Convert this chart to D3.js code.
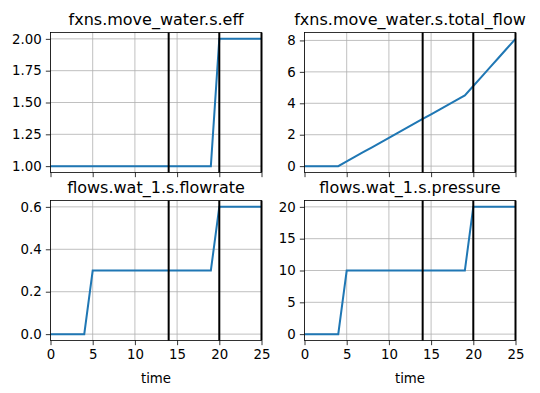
<!DOCTYPE html>
<html><head><meta charset="utf-8">
<script src="https://cdn.jsdelivr.net/npm/d3@7"></script>
<style>body{margin:0;background:#fff}svg{display:block;font-family:"DejaVu Sans",sans-serif}</style>
</head><body><svg id="c" width="540" height="393"></svg>
<script>
const time = [0,1,2,3,4,5,6,7,8,9,10,11,12,13,14,15,16,17,18,19,20,21,22,23,24,25];
const effValues = [1,1,1,1,1,1,1,1,1,1,1,1,1,1,1,1,1,1,1,1,2,2,2,2,2,2];
const totalFlowValues = [0,0,0,0,0,0.3,0.6,0.9,1.2,1.5,1.8,2.1,2.4,2.7,3.0,3.3,3.6,3.9,4.2,4.5,5.1,5.7,6.3,6.9,7.5,8.1];
const flowrateValues = [0,0,0,0,0,0.3,0.3,0.3,0.3,0.3,0.3,0.3,0.3,0.3,0.3,0.3,0.3,0.3,0.3,0.3,0.6,0.6,0.6,0.6,0.6,0.6];
const pressureValues = [0,0,0,0,0,10,10,10,10,10,10,10,10,10,10,10,10,10,10,10,20,20,20,20,20,20];
const titles = ["fxns.move_water.s.eff","fxns.move_water.s.total_flow","flows.wat_1.s.flowrate","flows.wat_1.s.pressure"];
const xTicks = [0,5,10,15,20,25];
const yTicks = [[1.00,1.25,1.50,1.75,2.00],[0,2,4,6,8],[0.0,0.2,0.4,0.6],[0,5,10,15,20]];
const yFormats = [".2f","d",".1f","d"];
const markerTimes = [14,20,25];
const xLabel = "time";

const series = [effValues,totalFlowValues,flowrateValues,pressureValues];
const svg = d3.select("#c");
const boxes = [
  {x0:50.5,x1:261.5,y0:32.5,y1:172.5},
  {x0:304.5,x1:515.5,y0:32.5,y1:172.5},
  {x0:50.5,x1:261.5,y0:200.5,y1:340.5},
  {x0:304.5,x1:515.5,y0:200.5,y1:340.5}
];
series.forEach((vals,i)=>{
  const b = boxes[i];
  const mn = d3.min(vals), mx = d3.max(vals), m = (mx-mn)*0.05;
  const x = d3.scaleLinear().domain([0,25]).range([b.x0,b.x1]);
  const y = d3.scaleLinear().domain([mn-m,mx+m]).range([b.y1,b.y0]);
  const g = svg.append("g");
  // grid
  g.selectAll(".gx").data(xTicks).join("line")
    .attr("x1",d=>x(d)).attr("x2",d=>x(d)).attr("y1",b.y0).attr("y2",b.y1)
    .attr("stroke","#b0b0b0").attr("stroke-width",0.8);
  g.selectAll(".gy").data(yTicks[i]).join("line")
    .attr("y1",d=>y(d)).attr("y2",d=>y(d)).attr("x1",b.x0).attr("x2",b.x1)
    .attr("stroke","#b0b0b0").attr("stroke-width",0.8);
  // data line
  g.append("path").datum(vals.map((v,k)=>[time[k],v]))
    .attr("d",d3.line().x(d=>x(d[0])).y(d=>y(d[1])))
    .attr("fill","none").attr("stroke","#1f77b4").attr("stroke-width",2);
  // marker lines
  g.selectAll(".vl").data(markerTimes).join("line")
    .attr("x1",d=>x(d)).attr("x2",d=>x(d)).attr("y1",b.y0).attr("y2",b.y1)
    .attr("stroke","#000").attr("stroke-width",2);
  // axes
  const xa = d3.axisBottom(x).tickValues(xTicks).tickSizeOuter(0).tickSize(4.67).tickPadding(4.2);
  if (i<2) xa.tickFormat("");
  const gx = g.append("g").attr("transform",`translate(0,${b.y1})`).call(xa);
  const ya = d3.axisLeft(y).tickValues(yTicks[i]).tickSizeOuter(0).tickSize(4.67).tickPadding(4.2).tickFormat(d3.format(yFormats[i]));
  const gy = g.append("g").attr("transform",`translate(${b.x0},0)`).call(ya);
  [gx,gy].forEach(a=>{
    a.select(".domain").remove();
    a.selectAll("line").attr("stroke","#000").attr("stroke-width",0.8);
    a.selectAll("text").attr("font-size",13.33).attr("fill","#000").attr("font-family","DejaVu Sans");
  });
  // frame
  g.append("rect").attr("x",b.x0).attr("y",b.y0).attr("width",b.x1-b.x0).attr("height",b.y1-b.y0)
    .attr("fill","none").attr("stroke","#000").attr("stroke-width",0.8);
  // title
  g.append("text").attr("x",(b.x0+b.x1)/2).attr("y",b.y0-8).attr("text-anchor","middle")
    .attr("font-size",16).attr("fill","#000").text(titles[i]);
  if (i>=2) g.append("text").attr("x",(b.x0+b.x1)/2).attr("y",b.y1+42).attr("text-anchor","middle")
    .attr("font-size",13.33).attr("fill","#000").text(xLabel);
});
</script></body></html>
